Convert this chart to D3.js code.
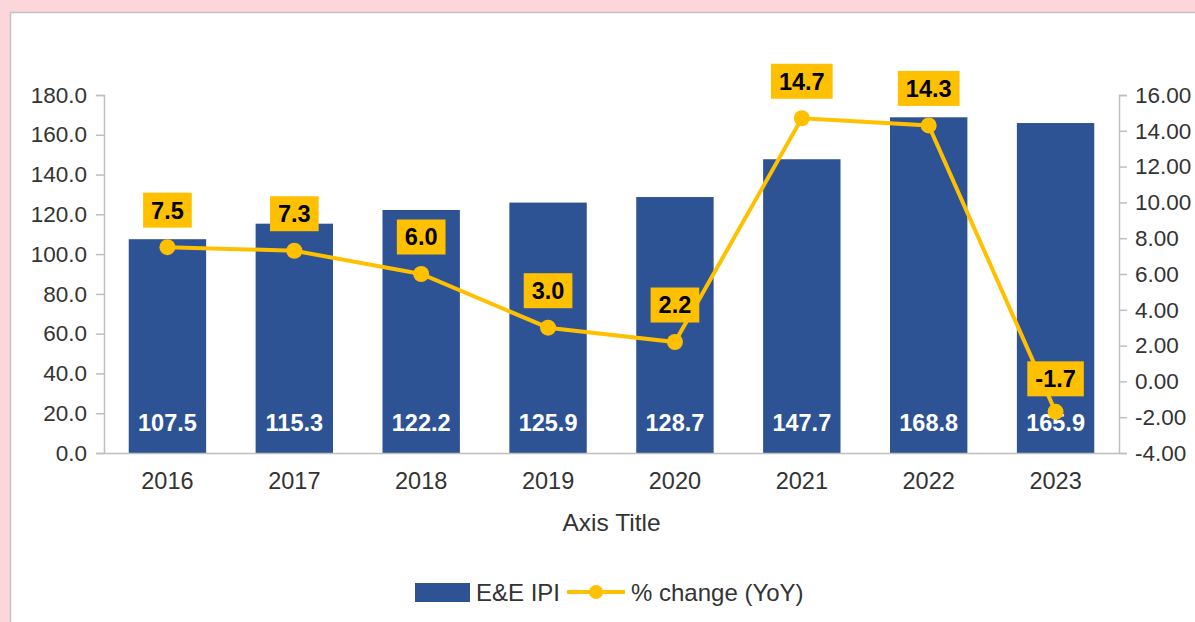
<!DOCTYPE html>
<html>
<head>
<meta charset="utf-8">
<script src="https://cdn.jsdelivr.net/npm/d3@7"></script>
<style>
  html, body { margin: 0; padding: 0; background: #fdd6db; }
  svg { display: block; }
  text { font-family: "Liberation Sans", Arial, sans-serif; }
</style>
</head>
<body>
<svg id="chart" width="1195" height="622"></svg>
<script>
// E&E industrial production index and its year-on-year change
const years = ["2016", "2017", "2018", "2019", "2020", "2021", "2022", "2023"];
const ipiValues = [107.5, 115.3, 122.2, 125.9, 128.7, 147.7, 168.8, 165.9];
const yoyValues = [7.5, 7.3, 6.0, 3.0, 2.2, 14.7, 14.3, -1.7];
const leftTicks = [0, 20, 40, 60, 80, 100, 120, 140, 160, 180];
const rightTicks = [-4, -2, 0, 2, 4, 6, 8, 10, 12, 14, 16];
const seriesNames = ["E&E IPI", "% change (YoY)"];
const xAxisTitle = "Axis Title";

const barColor = "#2e5395";
const lineColor = "#ffc000";
const textColor = "#333333";
const axisColor = "#bfbfbf";

// plain hyphen for negative numbers
const fmt = p => v => v.toFixed(p);

const svg = d3.select("#chart");

// white chart panel over the pink page
svg.append("rect")
  .attr("x", 10.5).attr("y", 12.5)
  .attr("width", 1190).attr("height", 620)
  .attr("fill", "#ffffff")
  .attr("stroke", "#c4c4c4").attr("stroke-width", 1.5);

const plot = { left: 104, right: 1119, top: 95, bottom: 453 };

const x = d3.scaleBand()
  .domain(years)
  .range([plot.left, plot.right])
  .paddingInner(0.39)
  .paddingOuter(0.195);

const yL = d3.scaleLinear().domain([0, 180]).range([plot.bottom, plot.top]);
const yR = d3.scaleLinear().domain([-4, 16]).range([plot.bottom, plot.top]);

// left axis
const gL = svg.append("g")
  .attr("transform", `translate(${plot.left},0)`)
  .call(d3.axisLeft(yL).tickValues(leftTicks).tickFormat(fmt(1)).tickSize(8).tickPadding(9));

// right axis
const gR = svg.append("g")
  .attr("transform", `translate(${plot.right},0)`)
  .call(d3.axisRight(yR).tickValues(rightTicks).tickFormat(fmt(2)).tickSize(8).tickPadding(8));

[gL, gR].forEach(g => {
  g.select(".domain").attr("stroke", axisColor).attr("stroke-width", 1.5);
  g.selectAll(".tick line").attr("stroke", axisColor).attr("stroke-width", 1.5);
  g.selectAll(".tick text")
    .attr("fill", textColor)
    .style("font-size", "22.5px")
    .style("font-family", "'Liberation Sans', Arial, sans-serif");
});

// bars
svg.append("g").selectAll("rect")
  .data(ipiValues)
  .join("rect")
  .attr("x", (d, i) => x(years[i]))
  .attr("y", d => yL(d))
  .attr("width", x.bandwidth())
  .attr("height", d => yL(0) - yL(d))
  .attr("fill", barColor);

// bottom axis
const gX = svg.append("g")
  .attr("transform", `translate(0,${plot.bottom})`)
  .call(d3.axisBottom(x).tickSize(0).tickPadding(19));
gX.select(".domain").attr("stroke", axisColor).attr("stroke-width", 1.5);
gX.selectAll(".tick text")
  .attr("fill", textColor)
  .style("font-size", "23.5px")
  .style("font-family", "'Liberation Sans', Arial, sans-serif");

// bar value labels
svg.append("g").selectAll("text")
  .data(ipiValues)
  .join("text")
  .attr("x", (d, i) => x(years[i]) + x.bandwidth() / 2)
  .attr("y", yL(0) - 30)
  .attr("dy", "0.36em")
  .attr("text-anchor", "middle")
  .attr("fill", "#ffffff")
  .attr("font-weight", "bold")
  .style("font-size", "23.5px")
  .text(fmt(1));

// YoY line and markers
const cx = i => x(years[i]) + x.bandwidth() / 2;
const line = d3.line().x((d, i) => cx(i)).y(d => yR(d));
svg.append("path")
  .datum(yoyValues)
  .attr("d", line)
  .attr("fill", "none")
  .attr("stroke", lineColor)
  .attr("stroke-width", 4);

svg.append("g").selectAll("circle")
  .data(yoyValues)
  .join("circle")
  .attr("cx", (d, i) => cx(i))
  .attr("cy", d => yR(d))
  .attr("r", 8)
  .attr("fill", lineColor);

// YoY callout labels
const lbl = svg.append("g").selectAll("g")
  .data(yoyValues)
  .join("g")
  .attr("transform", (d, i) => `translate(${cx(i)},${yR(d) - (d < 0 ? 33 : 37)})`);

lbl.append("text")
  .attr("text-anchor", "middle")
  .attr("dy", "0.36em")
  .attr("fill", "#000000")
  .attr("font-weight", "bold")
  .style("font-size", "23.5px")
  .text(fmt(1))
  .each(function () {
    const b = this.getBBox();
    d3.select(this.parentNode).insert("rect", "text")
      .attr("x", b.x - 8).attr("y", -17.5)
      .attr("width", b.width + 16).attr("height", 35)
      .attr("fill", lineColor);
  });

// axis title
svg.append("text")
  .attr("x", (plot.left + plot.right) / 2)
  .attr("y", 522)
  .attr("dy", "0.36em")
  .attr("text-anchor", "middle")
  .attr("fill", textColor)
  .style("font-size", "24.5px")
  .text(xAxisTitle);

// legend
const legend = svg.append("g");
legend.append("rect")
  .attr("x", 415).attr("y", 583)
  .attr("width", 55).attr("height", 19)
  .attr("fill", barColor);
legend.append("text")
  .attr("x", 476).attr("y", 592)
  .attr("dy", "0.36em")
  .attr("fill", textColor)
  .style("font-size", "24px")
  .text(seriesNames[0]);
legend.append("line")
  .attr("x1", 567).attr("x2", 625)
  .attr("y1", 592).attr("y2", 592)
  .attr("stroke", lineColor).attr("stroke-width", 4);
legend.append("circle")
  .attr("cx", 596).attr("cy", 592).attr("r", 7)
  .attr("fill", lineColor);
legend.append("text")
  .attr("x", 631).attr("y", 592)
  .attr("dy", "0.36em")
  .attr("fill", textColor)
  .style("font-size", "24px")
  .text(seriesNames[1]);
</script>
</body>
</html>
